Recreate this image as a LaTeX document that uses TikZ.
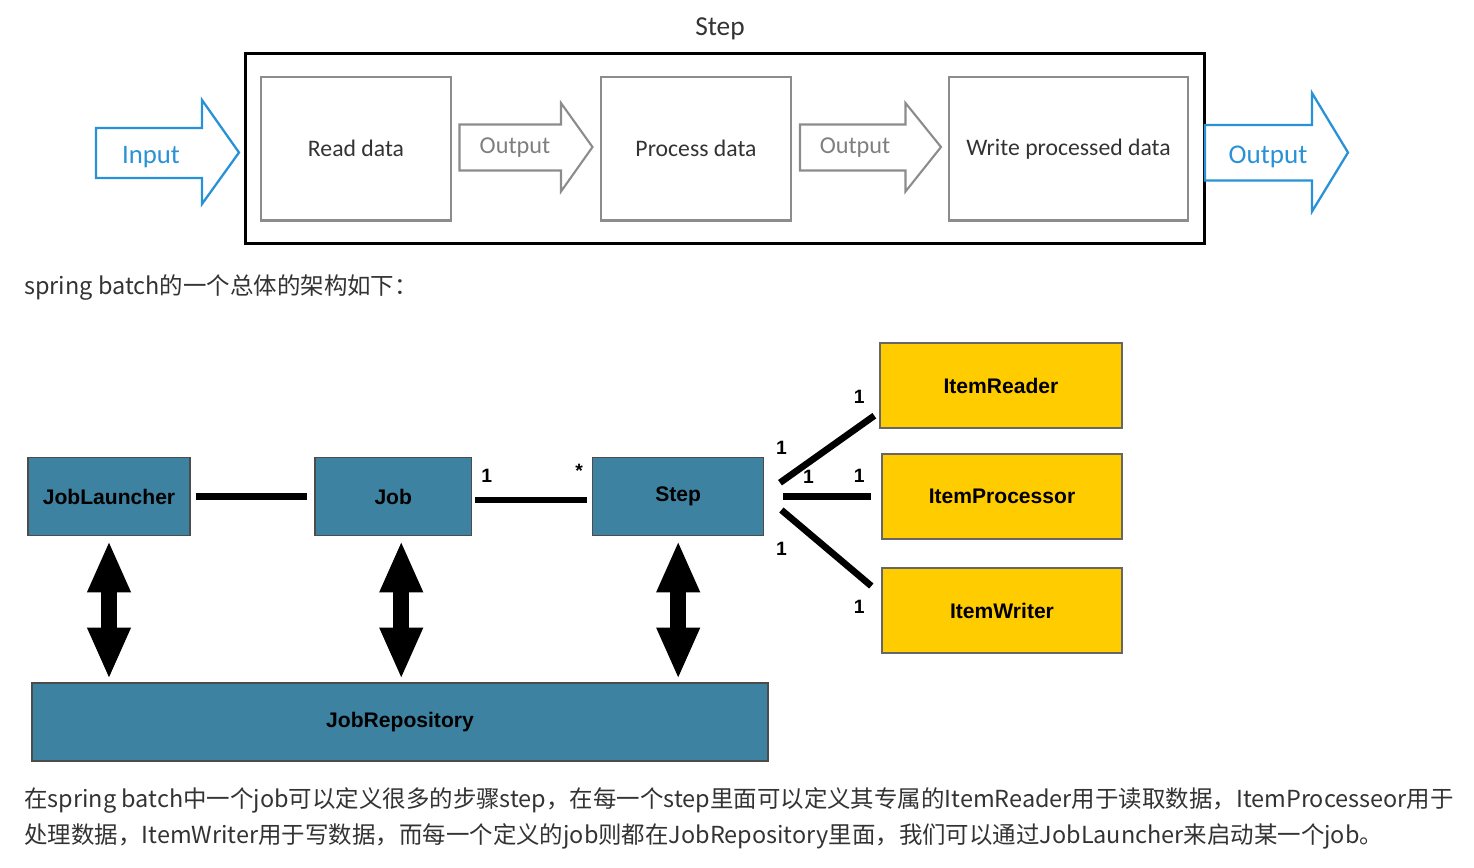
\documentclass[tikz,border=0pt]{standalone}
\usepackage{fontspec}
\setmainfont{Carlito}
\newfontfamily\cjk{Noto Sans CJK SC}
\newfontfamily\umlfont{Liberation Sans}
\usetikzlibrary{arrows.meta}

\definecolor{flowblue}{RGB}{41,146,214}
\definecolor{flowgray}{RGB}{140,140,140}
\definecolor{textgray}{RGB}{51,51,51}
\definecolor{batchblue}{RGB}{62,130,162}
\definecolor{batchyellow}{RGB}{255,204,0}

\tikzset{
  stage/.style={draw=flowgray, line width=1.2pt, minimum height=2.87cm, text=textgray, font=\fontsize{13.5}{16}\selectfont},
  bluearrow/.style={draw=flowblue, line width=1.3pt, line join=miter},
  grayarrow/.style={draw=flowgray, line width=1.2pt, line join=miter},
  batchbox/.style={draw=black!70, line width=0.8pt, fill=batchblue, minimum height=1.56cm, font=\umlfont\bfseries\fontsize{12}{14}\selectfont},
  itembox/.style={draw=black!60, line width=0.8pt, fill=batchyellow, minimum width=4.8cm, minimum height=1.7cm, font=\umlfont\bfseries\fontsize{12}{14}\selectfont},
  assoc/.style={line width=3.8pt},
  mult/.style={font=\umlfont\bfseries\fontsize{11}{13}\selectfont, inner sep=0pt},
  dbl/.style={line width=9pt, {Triangle[width=22.7pt,length=29.5pt]}-{Triangle[width=22.7pt,length=29.5pt]}},
  prose/.style={anchor=west, inner sep=0pt, text=textgray, font=\cjk\fontsize{13.35}{16}\selectfont}
}

\begin{document}
\begin{tikzpicture}[x=0.02cm, y=-0.02cm]

    \useasboundingbox (0,0) rectangle (1474,867);

    % step frame and its stages
    \node[draw, line width=1.7pt, minimum width=19.2cm, minimum height=3.82cm] (frame) at (725,148.5) {};
    \node[font=\fontsize{15.6}{18}\selectfont, text=textgray] (steptitle) at (720,29) {Step};
    \node[stage, minimum width=3.8cm] (read) at (356,148.75) {Read data};
    \node[stage, minimum width=3.8cm] (process) at (696,148.75) {Process data};
    \node[stage, minimum width=4.78cm] (write) at (1068.5,148.75) {Write processed data};

    % block arrows
    \draw[bluearrow] (96,128) -- (202,128) -- (202,100) -- (239,152.5) -- (202,204) -- (202,178) -- (96,178) -- cycle;
    \node[text=flowblue, font=\fontsize{15.2}{18}\selectfont] (input) at (151,157) {Input};
    \draw[grayarrow] (459.5,124.5) -- (561,124.5) -- (561,103) -- (592.5,147) -- (561,191.5) -- (561,170.5) -- (459.5,170.5) -- cycle;
    \node[text=flowgray!90!black, font=\fontsize{13.8}{16}\selectfont] (out1) at (515,148) {Output};
    \draw[grayarrow] (800,124.5) -- (905.5,124.5) -- (905.5,103) -- (941,147) -- (905.5,191.5) -- (905.5,170.5) -- (800,170.5) -- cycle;
    \node[text=flowgray!90!black, font=\fontsize{13.8}{16}\selectfont] (out2) at (855,148) {Output};
    \draw[bluearrow] (1205,125) -- (1312,125) -- (1312,93) -- (1348,152.5) -- (1312,211.5) -- (1312,180.5) -- (1205,180.5) -- cycle;
    \node[text=flowblue, font=\fontsize{15.4}{18}\selectfont] (out3) at (1268,157) {Output};

    \node[prose] (intro) at (24,288) {spring batch的一个总体的架构如下：};

    % batch boxes
    \node[batchbox, minimum width=3.24cm] (launcher) at (109,496.5) {JobLauncher};
    \node[batchbox, minimum width=3.13cm] (job) at (393.25,496.5) {Job};
    \node[batchbox, minimum width=3.42cm] (step) at (678.2,496.5) {Step};
    \node[batchbox, minimum width=14.72cm] (repo) at (400,722) {JobRepository};
    \node[itembox, minimum width=4.84cm] (reader) at (1001,385.5) {ItemReader};
    \node[itembox] (processor) at (1002,496.5) {ItemProcessor};
    \node[itembox] (writer) at (1002,610.5) {ItemWriter};

    % associations
    \draw[assoc, shorten <=2.8pt, shorten >=4pt] (launcher) -- (job);
    \draw[assoc, shorten <=1.4pt, shorten >=2.7pt] ([yshift=-2pt]job.east) -- ([yshift=-2pt]step.west);
    \node[mult] at ([shift={(14.5,-20.5)}]job.east) {1};
    \node[mult] at ([shift={(-13,-25.5)}]step.west) {*};
    \draw[assoc] ([shift={(15.6,-13.8)}]step.east) -- ([shift={(-5,-13)}]reader.south west);
    \draw[assoc] ([shift={(19,0)}]step.east) -- ([shift={(-10,0)}]processor.west);
    \draw[assoc] ([shift={(17,13.5)}]step.east) -- ([shift={(-10,18.7)}]writer.north west);
    \node[mult] at ([shift={(17,-48.5)}]step.east) {1};
    \node[mult] at ([shift={(-20,-32)}]reader.south west) {1};
    \node[mult] at ([shift={(44,-19.5)}]step.east) {1};
    \node[mult] at ([shift={(-22,-20.5)}]processor.west) {1};
    \node[mult] at ([shift={(17,52.5)}]step.east) {1};
    \node[mult] at ([shift={(-22,40)}]writer.north west) {1};

    % repository access
    \draw[dbl, shorten <=2.5pt, shorten >=1.7pt] (launcher.south) -- (launcher.south |- repo.north);
    \draw[dbl, shorten <=2.5pt, shorten >=1.7pt] ([shift={(8,0)}]job.south) -- ([shift={(8,0)}]job.south |- repo.north);
    \draw[dbl, shorten <=2.5pt, shorten >=1.7pt] (step.south) -- (step.south |- repo.north);

    \node[prose] (desc1) at (24,800) {在spring batch中一个job可以定义很多的步骤step，在每一个step里面可以定义其专属的ItemReader用于读取数据，ItemProcesseor用于};
    \node[prose] (desc2) at (24,836) {处理数据，ItemWriter用于写数据，而每一个定义的job则都在JobRepository里面，我们可以通过JobLauncher来启动某一个job。};

\end{tikzpicture}
\end{document}
